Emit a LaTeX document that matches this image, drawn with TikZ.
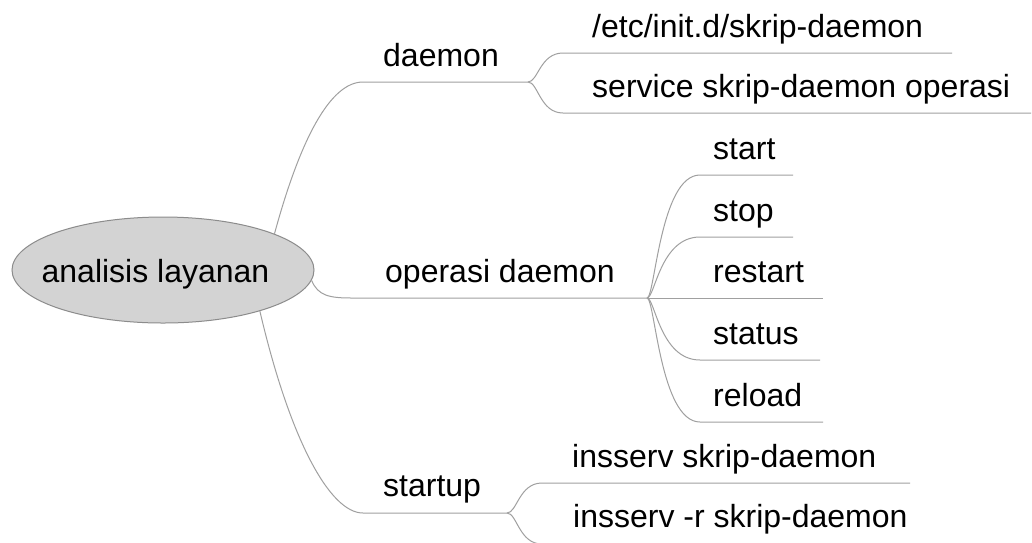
\documentclass[tikz,border=0pt]{standalone}
\usepackage{fontspec}
\setmainfont{Liberation Sans}
\usetikzlibrary{shapes.geometric,calc}
\definecolor{linegray}{RGB}{160,160,160}
\definecolor{rootfill}{RGB}{211,211,211}
\definecolor{rootdraw}{RGB}{140,140,140}
\begin{document}
\begin{tikzpicture}[x=1pt,y=-1pt,
  conn/.style={draw=linegray,line width=1pt},
  lbl/.style={anchor=base west,inner sep=0pt,font=\fontsize{32}{38}\selectfont},
  rootnode/.style={ellipse,fill=rootfill,draw=rootdraw,line width=1pt,
    minimum width=302pt,minimum height=106pt,inner sep=0pt,
    text height=30pt,text depth=6pt,font=\fontsize{32}{38}\selectfont}]
\useasboundingbox (0,0) rectangle (1032,542);
\clip (0,0) rectangle (1032,542);
\fill[white] (0,0) rectangle (1032,542);

% root
\node[rootnode] (root) at (163,270) {\hspace*{-15pt}analisis layanan};

% labels
\node[lbl] (daemon) at (383,66) {daemon};
\node[lbl] (etc) at (592,37) {/etc/init.d/skrip-daemon};
\node[lbl] (service) at (592,97) {service skrip-daemon operasi};
\node[lbl] (operasi) at (385,282) {operasi daemon};
\node[lbl] (start) at (713,159) {start};
\node[lbl] (stop) at (713,221) {stop};
\node[lbl] (restart) at (713,282) {restart};
\node[lbl] (status) at (713,344) {status};
\node[lbl] (reload) at (713,406) {reload};
\node[lbl] (startup) at (383,496) {startup};
\node[lbl] (ins) at (572,467) {insserv skrip-daemon};
\node[lbl] (insr) at (573,527) {insserv -r skrip-daemon};

% line coordinates
\coordinate (dl) at (363,82);   \coordinate (df) at (528,82);
\coordinate (ol) at (352,298);  \coordinate (of) at (647,298);
\coordinate (sl) at (363,513);  \coordinate (sf) at (507,513);
\coordinate (etcl) at (563,53);  \coordinate (etcr) at (952,53);
\coordinate (servl) at (563,113); \coordinate (servr) at (1031,113);
\coordinate (startl) at (700,175); \coordinate (startr) at (793,175);
\coordinate (stopl) at (700,237); \coordinate (stopr) at (793,237);
\coordinate (restartr) at (823,298);
\coordinate (statusl) at (700,360); \coordinate (statusr) at (820,360);
\coordinate (reloadl) at (700,422); \coordinate (reloadr) at (823,422);
\coordinate (insl) at (542,483); \coordinate (insr-end) at (910,483);
\coordinate (insrl) at (542,544); \coordinate (insrr) at (960,544);

% root to branches
\draw[conn] (root.18.6) .. controls (300,140) and (330,82) .. (dl) -- (df);
\draw[conn] (root.-4) .. controls (318,296) and (330,298) .. (ol) -- (of);
\draw[conn] (root.-23) .. controls (290,440) and (330,513) .. (sl) -- (sf);

% daemon children
\draw[conn] (df) .. controls +(10,0) and +(-23,0) .. (etcl) -- (etcr);
\draw[conn] (df) .. controls +(10,0) and +(-23,0) .. (servl) -- (servr);

% operasi children
\draw[conn] (of) .. controls +(8,0) and +(-40,0) .. (startl) -- (startr);
\draw[conn] (of) .. controls +(8,0) and +(-40,0) .. (stopl) -- (stopr);
\draw[conn] (of) -- (restartr);
\draw[conn] (of) .. controls +(8,0) and +(-40,0) .. (statusl) -- (statusr);
\draw[conn] (of) .. controls +(8,0) and +(-40,0) .. (reloadl) -- (reloadr);

% startup children
\draw[conn] (sf) .. controls +(10,0) and +(-23,0) .. (insl) -- (insr-end);
\draw[conn] (sf) .. controls +(10,0) and +(-23,0) .. (insrl) -- (insrr);
\end{tikzpicture}
\end{document}
